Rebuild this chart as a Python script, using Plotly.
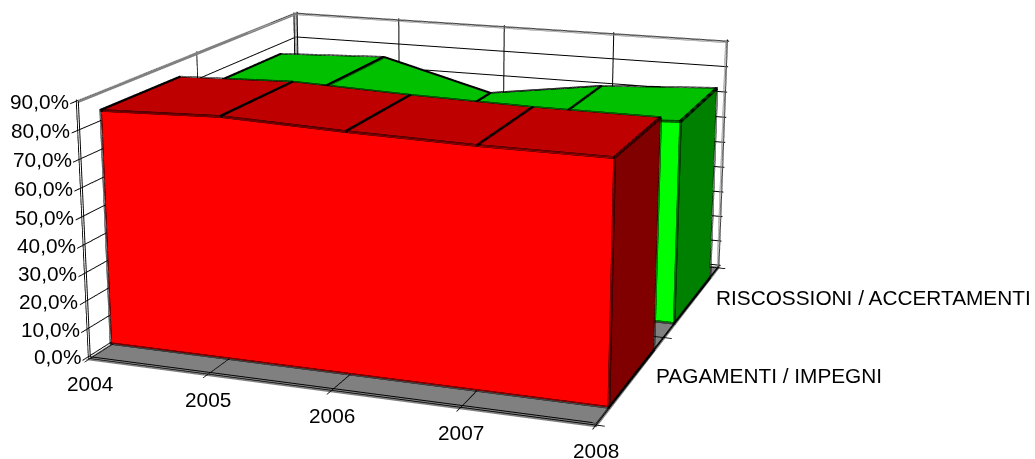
import plotly.graph_objects as go

years = [2004, 2005, 2006, 2007, 2008]
series_names = ["PAGAMENTI / IMPEGNI", "RISCOSSIONI / ACCERTAMENTI"]
pagamenti = [83.7, 85.1, 83.6, 82.7, 82.6]
riscossioni = [75.8, 77.6, 66.2, 72.3, 74.8]
z_ticks = [0, 10, 20, 30, 40, 50, 60, 70, 80, 90]
z_labels = ["0,0%", "10,0%", "20,0%", "30,0%", "40,0%", "50,0%", "60,0%", "70,0%", "80,0%", "90,0%"]

GAP = 0.168
PAD_X, PAD_Y, PAD_Z = 0.015, 0.02, 0.6
EYE = dict(x=2.7366, y=-7.3786, z=2.1077)
CAM_SHIFT = (0.0067, -0.009, 0.23)
OFFS = [(a * 0.008, b * 0.36) for a in (-1, 0, 1) for b in (-1, 0, 1)]
OFFS_THIN = [(0, 0), (0.004, 0.16)]
FONT = dict(family="Liberation Sans, Arial", size=20.8, color="black")


def thick(segments, color, shift=CAM_SHIFT, offs=OFFS):
    ex, ey, ez = [], [], []
    for dx, dz in offs:
        for seg in segments:
            for p in seg:
                ex.append(p[0] + dx + shift[0]); ey.append(p[1] + shift[1]); ez.append(p[2] + dz + shift[2])
            ex.append(None); ey.append(None); ez.append(None)
    return go.Scatter3d(x=ex, y=ey, z=ez, mode="lines", line=dict(color=color, width=1),
                        hoverinfo="skip", showlegend=False)


def solid(values, y0, y1, front, top, side):
    n = len(years)
    xs = years * 4
    ys = [y0] * n + [y0] * n + [y1] * n + [y1] * n
    zs = [0] * n + list(values) + [0] * n + list(values)
    I, J, K, C = [], [], [], []

    def quad(a, b, c, d, col):
        I.extend([a, a]); J.extend([b, c]); K.extend([c, d]); C.extend([col, col])

    for k in range(n - 1):
        quad(k, k + 1, n + k + 1, n + k, front)
        quad(2 * n + k, 2 * n + k + 1, 3 * n + k + 1, 3 * n + k, top)
        quad(n + k, n + k + 1, 3 * n + k + 1, 3 * n + k, top)
    quad(0, n, 3 * n, 2 * n, side)
    quad(n - 1, 2 * n - 1, 4 * n - 1, 3 * n - 1, side)
    mesh = go.Mesh3d(x=xs, y=ys, z=zs, i=I, j=J, k=K, facecolor=C, flatshading=True,
                     lighting=dict(ambient=1, diffuse=0, specular=0, fresnel=0, roughness=1),
                     hoverinfo="skip", showscale=False)
    segs = [[(years[0], y0, 0)] + [(x, y0, v) for x, v in zip(years, values)] + [(years[-1], y0, 0), (years[0], y0, 0)],
            [(x, y1, v) for x, v in zip(years, values)]]
    segs += [[(x, y0, v), (x, y1, v)] for x, v in zip(years, values)]
    segs.append([(years[-1], y0, 0), (years[-1], y1, 0), (years[-1], y1, values[-1])])
    return [mesh, thick(segs, "black")]


traces = []
traces += solid(riscossioni, 1 + GAP, 2 - GAP, "#00FF00", "#00C000", "#008000")
traces += solid(pagamenti, GAP, 1 - GAP, "#FF0000", "#BF0000", "#800000")

x0, x1 = years[0], years[-1]
traces.append(thick([[(x0, 0, 90), (x0, 2, 90), (x1, 2, 90), (x1, 2, 0)], [(x0, 2, 90), (x0, 2, 0)]],
                    "#808080", shift=(0, 0, 0)))
traces.append(thick([[(x0, 0, 90), (x0, 0, 0), (x1, 0, 0), (x1, 2, 0)]], "black", shift=(0, 0, 0), offs=OFFS_THIN))

axis_common = dict(gridcolor="black", gridwidth=2, showline=False,
                   ticks="outside", ticklen=5, tickcolor="black", tickwidth=2, zeroline=False,
                   showspikes=False, title=dict(text=""), autorange=False, showticklabels=False)

notes = []
for v, t in zip(z_ticks, z_labels):
    notes.append(dict(x=x0, y=0, z=v, text=t, showarrow=False, xanchor="right", yanchor="middle",
                      xshift=-7, font=FONT))
for yr in years:
    notes.append(dict(x=yr, y=0, z=0, text=str(yr), showarrow=False, xanchor="center", yanchor="middle",
                      yshift=-27, font=FONT))
for pos, name in zip([0.5, 1.5], series_names):
    notes.append(dict(x=x1, y=pos, z=0, text=name, showarrow=False, xanchor="left", yanchor="middle",
                      xshift=22, yshift=2, font=FONT))

fig = go.Figure(traces)
fig.update_layout(
    width=1200, height=1670, margin=dict(l=0, r=0, t=0, b=0), paper_bgcolor="white", showlegend=False,
    scene=dict(
        domain=dict(x=[0, 1], y=[0, 1]),
        aspectmode="manual",
        aspectratio=dict(x=2.0033 * (4 + 2 * PAD_X) / 4, y=1.9784 * (2 + 2 * PAD_Y) / 2, z=(90 + 2 * PAD_Z) / 90),
        camera=dict(eye=EYE, center=dict(x=0.0501, y=0, z=0.021),
                    up=dict(x=0, y=0, z=1), projection=dict(type="perspective")),
        xaxis=dict(range=[x0 - PAD_X, x1 + PAD_X], tickvals=years,
                   showbackground=True, backgroundcolor="white", **axis_common),
        yaxis=dict(range=[-PAD_Y, 2 + PAD_Y], tickvals=[0, 1, 2],
                   showbackground=True, backgroundcolor="white", **axis_common),
        zaxis=dict(range=[-PAD_Z, 90 + PAD_Z], tickvals=z_ticks,
                   showbackground=True, backgroundcolor="#808080", **axis_common),
        annotations=notes,
    ),
)
post = ("var g=document.querySelector('.plotly-graph-div');g.style.position='absolute';"
        "g.style.left='-163px';g.style.top='-648px';document.body.style.margin='0';"
        "document.documentElement.style.overflow='hidden';document.body.style.overflow='hidden';")
fig.write_html("out.html", post_script=post)
